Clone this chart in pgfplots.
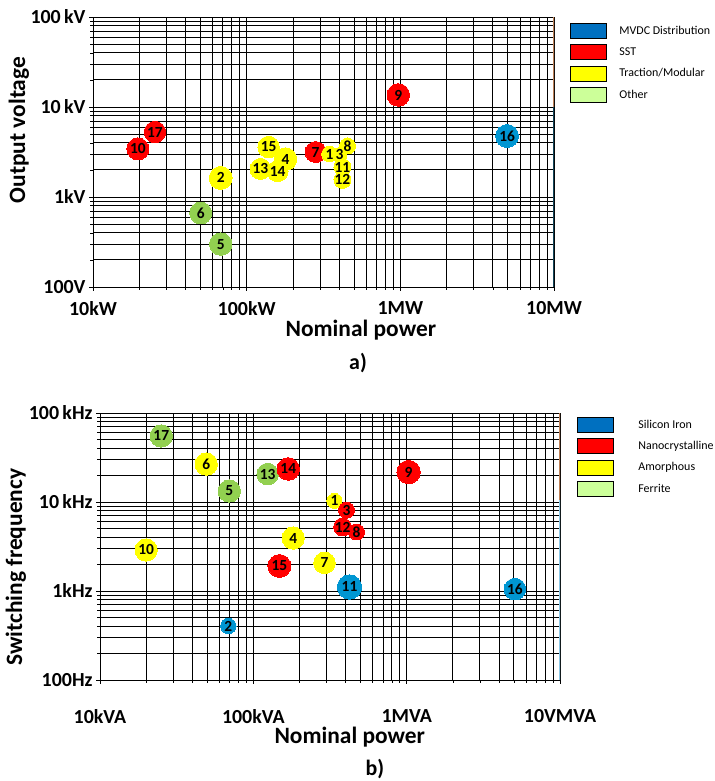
\documentclass[border=0pt]{standalone}
\usepackage{fontspec}
\setmainfont{Carlito}
\usepackage{pgfplots}
\pgfplotsset{compat=1.18}

\definecolor{ptred}{RGB}{255,0,0}
\definecolor{ptyel}{RGB}{255,255,0}
\definecolor{ptgrn}{RGB}{146,208,80}
\definecolor{ptblu}{RGB}{0,150,210}
\definecolor{lgblu}{RGB}{0,112,192}
\definecolor{lggrn}{RGB}{204,255,153}
\definecolor{edgebrown}{RGB}{190,130,90}
\definecolor{edgedark}{RGB}{20,70,90}
\definecolor{edgelight}{RGB}{140,200,230}

% bubble: x, y, colour, radius (pt), label
\newcommand{\bubcircle}[5]{%
  \addplot[forget plot, only marks, color=#3, mark=*, mark size=#4,
    mark options={draw=#3, fill=#3, line width=0pt}] coordinates {(#1,#2)};}
\newcommand{\bublabel}[5]{%
  \addplot[forget plot, only marks, mark=none,
    nodes near coords={#5},
    every node near coord/.append style={anchor=center, text=black, inner sep=0pt,
      font=\fontsize{15.5}{16}\selectfont\bfseries}] coordinates {(#1,#2)};}

% ---------- chart a): power (W), voltage (V) ----------
\newcommand{\topset}{%
  \B{19600}{3420}{ptred}{11}{10}%
  \B{25300}{5270}{ptred}{10.7}{17}%
  \B{281000}{3160}{ptred}{10.5}{7}%
  \B{970000}{13600}{ptred}{11.3}{9}%
  \B{50200}{664}{ptgrn}{11}{6}%
  \B{67800}{300}{ptgrn}{11.3}{5}%
  \B{4950000}{4760}{ptblu}{11.5}{16}%
  \B{67800}{1630}{ptyel}{11.5}{2}%
  \B{139000}{3590}{ptyel}{10.8}{15}%
  \B{123000}{2050}{ptyel}{10.5}{13}%
  \B{159000}{1940}{ptyel}{10.5}{14}%
  \B{179000}{2640}{ptyel}{11.3}{4}%
  \B{346000}{3000}{ptyel}{7.8}{1}%
  \B{402000}{2930}{ptyel}{7.5}{3}%
  \B{453000}{3690}{ptyel}{8}{8}%
  \B{420000}{1550}{ptyel}{8.5}{12}%
  \B{420000}{2150}{ptyel}{8.5}{11}%
}
% ---------- chart b): power (VA), frequency (Hz) ----------
\newcommand{\botset}{%
  \B{25100}{55200}{ptgrn}{11.2}{17}%
  \B{69700}{13300}{ptgrn}{11.2}{5}%
  \B{124000}{20600}{ptgrn}{10.8}{13}%
  \B{49300}{26700}{ptyel}{11.2}{6}%
  \B{20000}{2890}{ptyel}{11.2}{10}%
  \B{182000}{3940}{ptyel}{11.2}{4}%
  \B{291000}{2070}{ptyel}{10.8}{7}%
  \B{338000}{10300}{ptyel}{7.5}{1}%
  \B{169000}{23500}{ptred}{11.3}{14}%
  \B{148000}{1910}{ptred}{11.5}{15}%
  \B{382000}{5240}{ptred}{9}{12}%
  \B{471000}{4600}{ptred}{8}{8}%
  \B{405000}{8100}{ptred}{8}{3}%
  \B{1030000}{21700}{ptred}{11.7}{9}%
  \B{68700}{404}{ptblu}{7.7}{2}%
  \B{424000}{1110}{ptblu}{12.2}{11}%
  \B{5080000}{1050}{ptblu}{10.8}{16}%
}

\begin{document}
\begin{tikzpicture}
\path[use as bounding box] (0,0) rectangle (715bp,781bp);

\begin{axis}[
  scale only axis, xmode=log, ymode=log,
  xmin=1e4, xmax=1e7, ymin=100, ymax=1e5,
  grid=both,
  major grid style={black, line width=0.8bp},
  minor grid style={black, line width=0.8bp},
  axis line style={black, line width=0.8bp},
  xtick={1e4,1e5,1e6,1e7}, ytick={100,1000,1e4,1e5},
  xtick pos=bottom, ytick pos=left, tick align=outside,
  major tick length=4bp, minor tick length=3bp,
  tick style={black, line width=0.6bp},
  tick label style={font=\fontsize{20}{22}\selectfont\bfseries},
  label style={font=\fontsize{23.5}{26}\selectfont\bfseries},
  legend style={draw=none, fill=none, inner sep=0pt, outer sep=0pt,
    anchor=north west, font=\fontsize{12}{14}\selectfont,
    row sep=6bp, nodes={inner sep=0pt},
    at={(axis description cs:1.0347,0.978)}, column sep=13bp},
  legend cell align=left,
  legend image code/.code={\fill[#1] (0bp,-7.5bp) rectangle (36bp,7.5bp);},
  at={(93bp,494bp)}, anchor=south west, width=461bp, height=270bp,
  xticklabels={10kW,100kW,\rule{0pt}{13.5bp}1MW,10MW},
  yticklabels={100V,1kV,10\,kV,100\,kV},
  xticklabel style={yshift=-7bp},
  xlabel={Nominal power}, ylabel={Output voltage},
  xlabel style={at={(axis description cs:0.581,-0.158)}, anchor=center},
  ylabel style={at={(axis description cs:-0.1605,0.581)}, anchor=center},
]
\addlegendimage{fill=lgblu}\addlegendentry{MVDC Distribution}
\addlegendimage{fill=ptred}\addlegendentry{SST}
\addlegendimage{fill=ptyel}\addlegendentry{Traction/Modular}
\addlegendimage{fill=lggrn}\addlegendentry{Other}
\let\B\bubcircle \topset
\let\B\bublabel \topset
\draw[edgebrown, line width=1.5bp] (rel axis cs:1,1) -- (rel axis cs:1,0.667);
\draw[edgedark, line width=1.5bp] (rel axis cs:1,0.667) -- (rel axis cs:1,0);
\end{axis}

\begin{axis}[
  scale only axis, xmode=log, ymode=log,
  xmin=1e4, xmax=1e7, ymin=100, ymax=1e5,
  grid=both,
  major grid style={black, line width=0.8bp},
  minor grid style={black, line width=0.8bp},
  axis line style={black, line width=0.8bp},
  xtick={1e4,1e5,1e6,1e7}, ytick={100,1000,1e4,1e5},
  xtick pos=bottom, ytick pos=left, tick align=outside,
  major tick length=4bp, minor tick length=3bp,
  tick style={black, line width=0.6bp},
  tick label style={font=\fontsize{20}{22}\selectfont\bfseries},
  label style={font=\fontsize{23.5}{26}\selectfont\bfseries},
  legend style={draw=none, fill=none, inner sep=0pt, outer sep=0pt,
    anchor=north west, font=\fontsize{12}{14}\selectfont,
    row sep=6bp, nodes={inner sep=0pt},
    at={(axis description cs:1.037,0.985)}, column sep=25bp},
  legend cell align=left,
  legend image code/.code={\fill[#1] (0bp,-7.5bp) rectangle (36bp,7.5bp);},
  at={(100bp,101bp)}, anchor=south west, width=460bp, height=267bp,
  xticklabels={10kVA,100kVA,1MVA,10VMVA},
  yticklabels={100Hz,1kHz,10\,kHz,100\,kHz},
  xticklabel style={yshift=-22bp},
  xlabel={Nominal power}, ylabel={Switching frequency},
  xlabel style={at={(axis description cs:0.543,-0.213)}, anchor=center},
  ylabel style={at={(axis description cs:-0.1826,0.423)}, anchor=center},
]
\addlegendimage{fill=lgblu}\addlegendentry{Silicon Iron}
\addlegendimage{fill=ptred}\addlegendentry{Nanocrystalline}
\addlegendimage{fill=ptyel}\addlegendentry{Amorphous}
\addlegendimage{fill=lggrn}\addlegendentry{Ferrite}
\let\B\bubcircle \botset
\let\B\bublabel \botset
\draw[edgebrown, line width=1.5bp] (rel axis cs:1,1) -- (rel axis cs:1,0.674);
\draw[edgelight, line width=1.5bp] (rel axis cs:1,0.674) -- (rel axis cs:1,0);
\end{axis}

\node[font=\fontsize{22}{24}\selectfont\bfseries] at (358bp,418bp) {a)};
\node[font=\fontsize{22}{24}\selectfont\bfseries] at (375bp,12bp) {b)};
\end{tikzpicture}
\end{document}
